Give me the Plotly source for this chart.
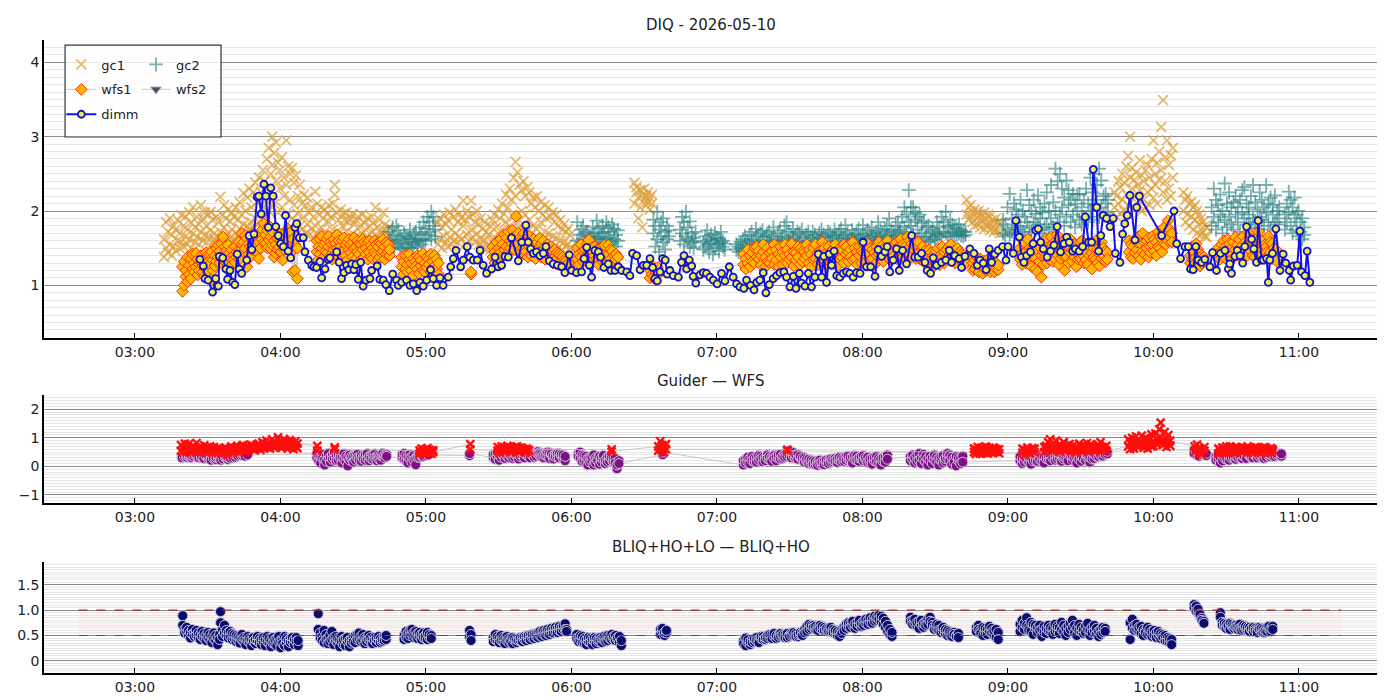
import pandas as pd
import plotly.graph_objects as go

DAY = pd.Timestamp("2026-05-10")

# times are minutes after midnight
# cloud series: (minute, reading a, reading b)
gc1 = [
    (192.0, 1.38, 1.62), (192.8, 1.85, 1.50), (193.6, 1.44, 1.72), (194.4, 1.90, 1.55), (195.2, 1.40, 1.68),
    (196.0, 1.80, 1.52), (196.8, 1.46, 1.75), (197.6, 1.88, 1.60), (198.4, 1.50, 1.70), (199.2, 1.94, 1.58),
    (200.0, 1.52, 1.80), (200.8, 1.66, 1.92), (201.6, 1.55, 1.75), (202.4, 1.98, 1.62), (203.2, 1.50, 1.85),
    (204.0, 2.05, 1.70), (204.8, 1.58, 1.78), (205.6, 1.92, 1.65), (206.4, 1.55, 1.82), (207.2, 2.08, 1.72),
    (208.0, 1.60, 1.90), (208.8, 1.98, 1.68), (209.6, 1.58, 1.80), (210.4, 1.95, 1.66), (211.2, 1.99, 1.74),
    (212.0, 1.56, 1.88), (212.8, 1.70, 1.62), (213.6, 1.92, 1.60), (214.4, 1.65, 1.85), (215.2, 2.19, 1.72),
    (216.0, 1.62, 1.95), (216.8, 2.08, 1.78), (217.6, 1.66, 1.90), (218.4, 2.02, 1.70), (219.2, 1.64, 1.86),
    (220.0, 1.98, 1.75), (220.8, 1.62, 1.92), (221.6, 2.05, 1.70), (222.4, 1.68, 1.88), (223.2, 2.12, 1.76),
    (224.0, 1.66, 1.95), (224.8, 2.24, 1.82), (225.6, 1.72, 2.00), (226.4, 2.18, 1.80), (227.2, 1.75, 2.30),
    (228.0, 2.05, 1.85), (228.8, 2.25, 1.78), (229.6, 1.90, 2.38), (230.4, 1.82, 2.12), (231.2, 2.45, 1.95),
    (232.0, 1.88, 2.25), (232.8, 2.55, 2.05), (233.6, 1.92, 2.40), (234.4, 2.70, 2.15), (235.2, 2.00, 2.85),
    (236.0, 2.50, 2.25), (236.6, 3.00, 2.62), (237.4, 2.10, 2.78), (238.2, 2.40, 2.92), (239.0, 1.98, 2.65),
    (239.8, 2.30, 2.55), (240.6, 2.05, 2.72), (241.4, 2.45, 2.20), (242.4, 2.95, 2.35), (243.2, 1.95, 2.60),
    (244.0, 2.50, 2.15), (244.8, 1.90, 2.58), (245.6, 2.38, 2.08), (246.4, 1.85, 2.48), (247.2, 2.20, 1.96),
    (248.0, 1.80, 2.35), (248.8, 2.10, 1.75), (249.6, 1.92, 2.22), (250.4, 1.70, 2.08), (251.2, 2.18, 1.82),
    (252.0, 1.68, 1.98), (252.8, 2.05, 1.76), (253.6, 1.65, 1.92), (254.4, 2.26, 1.80), (255.2, 1.70, 2.10),
    (256.0, 1.95, 1.62), (256.8, 1.78, 2.05), (257.6, 1.66, 1.90), (258.4, 2.02, 1.72), (259.2, 1.62, 1.96),
    (260.0, 1.85, 2.08), (260.8, 1.68, 1.92), (261.6, 2.10, 1.75), (262.4, 2.35, 2.22), (263.2, 1.65, 1.98),
    (264.0, 1.88, 1.70), (264.8, 1.62, 2.02), (265.6, 1.80, 1.95), (266.4, 1.60, 1.88), (267.2, 1.98, 1.72),
    (268.0, 1.64, 1.85), (268.8, 1.90, 1.60), (269.6, 1.70, 1.96), (270.4, 1.58, 1.82), (271.2, 1.88, 1.66),
    (272.0, 1.62, 1.92), (272.8, 1.78, 1.58), (273.6, 1.95, 1.70), (274.4, 1.60, 1.85), (275.2, 1.75, 1.56),
    (276.0, 1.90, 1.66), (276.8, 1.58, 1.80), (277.6, 1.72, 1.92), (278.4, 1.62, 1.84), (279.2, 2.05, 1.68),
    (280.0, 1.56, 1.78), (280.8, 1.88, 1.64), (281.6, 1.70, 1.58), (282.4, 1.98, 1.75), (283.2, 1.60, 1.82),
    (284.0, 1.72, 1.55), (284.8, 1.66, 1.78),
    (305.0, 1.55, 1.85), (305.8, 1.90, 1.62), (306.6, 1.50, 1.78), (307.4, 1.95, 1.66), (308.2, 1.58, 1.82),
    (309.0, 1.88, 1.52), (309.8, 1.65, 1.98), (310.6, 1.55, 1.75), (311.4, 1.92, 1.60), (312.2, 1.70, 2.02),
    (313.0, 1.58, 1.85), (313.8, 1.96, 1.66), (314.6, 1.62, 1.90), (315.4, 1.80, 2.14), (316.2, 1.55, 1.88),
    (317.0, 2.00, 1.68), (317.8, 1.60, 1.92), (318.6, 2.14, 1.75), (319.4, 1.65, 1.95), (320.2, 1.85, 1.58),
    (321.0, 1.70, 2.00), (321.8, 1.55, 1.82), (322.6, 1.90, 1.62), (323.4, 1.52, 1.76), (324.2, 1.85, 1.60),
    (325.0, 1.48, 1.72), (325.8, 1.68, 1.55), (326.6, 1.80, 1.48), (327.4, 1.58, 1.88), (328.2, 1.95, 1.65),
    (329.0, 1.52, 1.78), (329.8, 2.02, 1.70), (330.6, 1.60, 1.90), (331.4, 2.10, 1.75), (332.2, 1.62, 1.96),
    (333.0, 2.22, 1.85), (333.8, 1.68, 2.05), (334.6, 2.30, 1.80), (335.4, 1.72, 2.15), (336.2, 2.45, 1.92),
    (337.0, 2.66, 2.20), (337.8, 2.52, 1.85), (338.6, 1.78, 2.35), (339.4, 2.28, 2.00), (340.2, 1.82, 2.40),
    (341.0, 2.20, 1.95), (341.8, 1.75, 2.32), (342.6, 2.25, 1.88), (343.4, 1.70, 2.10), (344.2, 2.18, 1.80),
    (345.0, 1.65, 2.05), (345.8, 2.20, 1.76), (346.6, 1.62, 2.00), (347.4, 2.12, 1.85), (348.2, 1.60, 1.95),
    (349.0, 2.08, 1.72), (349.8, 1.58, 1.90), (350.6, 2.05, 1.70), (351.4, 1.55, 1.92), (352.2, 1.98, 1.66),
    (353.0, 1.52, 1.85), (353.8, 1.95, 1.64), (354.6, 1.50, 1.80), (355.4, 1.88, 1.60), (356.2, 1.48, 1.75),
    (357.0, 1.82, 1.58), (357.8, 1.52, 1.72), (358.6, 1.76, 1.56), (359.4, 1.50, 1.68),
    (386.0, 2.38, 2.10), (386.8, 2.25, 2.32), (387.6, 1.90, 2.18), (388.4, 2.28, 2.05), (389.2, 1.78, 2.22),
    (390.0, 2.15, 2.30), (390.8, 2.08, 2.20), (391.6, 2.25, 2.12), (392.4, 2.18, 2.02), (393.2, 2.10, 2.22),
    (523.0, 2.15, 1.95), (523.8, 1.88, 2.05), (524.6, 2.08, 1.92), (525.4, 1.98, 1.85), (526.2, 2.02, 1.80),
    (527.0, 1.90, 1.96), (527.8, 1.82, 2.00), (528.6, 1.95, 1.78), (529.4, 1.86, 1.92), (530.2, 1.76, 1.98),
    (531.0, 1.90, 1.82), (531.8, 1.80, 1.95), (532.6, 1.92, 1.74), (533.4, 1.78, 1.88), (534.2, 1.85, 1.72),
    (535.0, 1.90, 1.76), (535.8, 1.74, 1.84), (536.6, 1.82, 1.70),
    (584.0, 2.05, 2.25), (584.8, 2.20, 1.92), (585.6, 2.40, 2.10), (586.4, 1.96, 2.32), (587.2, 2.50, 2.15),
    (588.0, 2.00, 2.38), (588.8, 2.60, 2.22), (589.6, 2.74, 2.08), (590.4, 3.00, 2.45), (591.2, 2.30, 2.58),
    (592.0, 2.05, 2.42), (592.8, 2.52, 2.20), (593.6, 2.10, 2.35), (594.4, 2.68, 2.28), (595.2, 2.00, 2.48),
    (596.0, 2.40, 2.15), (596.8, 2.55, 2.05), (597.6, 2.25, 2.62), (598.4, 2.08, 2.45), (599.2, 2.70, 2.30),
    (600.0, 2.95, 2.18), (600.8, 2.50, 2.35), (601.6, 2.10, 2.65), (602.4, 2.80, 2.42), (603.2, 3.13, 2.55),
    (604.0, 3.49, 2.25), (604.8, 2.40, 2.72), (605.6, 2.95, 2.15), (606.4, 2.62, 2.30), (607.2, 2.20, 2.75),
    (608.0, 2.85, 2.45),
    (612.4, 2.25, 2.00), (613.2, 1.85, 2.15), (614.0, 2.20, 1.95), (614.8, 1.80, 2.10), (615.6, 2.12, 1.92),
    (616.4, 1.75, 2.05), (617.2, 2.08, 1.88), (618.0, 1.70, 2.00), (618.8, 1.95, 1.82), (619.6, 1.68, 1.90),
    (620.4, 1.85, 1.72), (621.2, 1.66, 1.80), (622.0, 1.78, 1.65),
]

gc2 = [
    (284.6, 1.55, 1.72), (285.4, 1.62, 1.50), (286.2, 1.78, 1.58), (287.0, 1.52, 1.68), (287.8, 1.80, 1.60),
    (288.6, 1.56, 1.74), (289.4, 1.66, 1.50), (290.2, 1.48, 1.62), (291.0, 1.70, 1.55), (291.8, 1.52, 1.66),
    (292.6, 1.64, 1.50), (293.4, 1.75, 1.58), (294.2, 1.50, 1.62), (295.0, 1.68, 1.55), (295.8, 1.58, 1.72),
    (296.6, 1.62, 1.52), (297.4, 1.78, 1.60), (298.2, 1.55, 1.70), (299.0, 1.85, 1.62), (299.8, 1.60, 1.76),
    (300.6, 1.92, 1.68), (301.4, 1.72, 1.86), (302.2, 1.99, 1.62), (303.0, 1.80, 1.92), (303.8, 1.66, 1.75),
    (362.4, 1.85, 1.60), (363.2, 1.68, 1.52), (364.0, 1.75, 1.58), (364.8, 1.62, 1.80), (365.6, 1.55, 1.70),
    (366.4, 1.72, 1.50), (367.2, 1.60, 1.66), (368.0, 1.66, 1.55), (368.8, 1.78, 1.62), (369.6, 1.58, 1.70),
    (370.4, 1.87, 1.64), (371.2, 1.62, 1.76), (372.0, 1.70, 1.54), (372.8, 1.80, 1.66), (373.6, 1.56, 1.72),
    (374.4, 1.85, 1.62), (375.2, 1.64, 1.78), (376.0, 1.72, 1.55), (376.8, 1.58, 1.82), (377.6, 1.76, 1.62),
    (378.4, 1.68, 1.52), (379.2, 1.60, 1.74),
    (393.8, 1.70, 1.88), (394.6, 1.52, 1.80), (395.4, 1.99, 1.62), (396.2, 1.75, 1.45), (397.0, 1.85, 1.66),
    (397.8, 1.58, 1.90), (398.6, 1.72, 1.48), (399.4, 1.80, 1.62), (400.2, 1.66, 1.74),
    (404.8, 1.75, 1.60), (405.6, 1.92, 1.70), (406.4, 1.55, 1.85), (407.2, 1.99, 1.66), (408.0, 1.62, 1.78),
    (408.8, 1.86, 1.52), (409.6, 1.70, 1.58), (410.4, 1.50, 1.64), (411.2, 1.60, 1.72),
    (414.4, 1.58, 1.48), (415.2, 1.66, 1.52), (416.0, 1.74, 1.55), (416.8, 1.45, 1.62), (417.6, 1.68, 1.56),
    (418.4, 1.60, 1.42), (419.2, 1.70, 1.50), (420.0, 1.55, 1.64), (420.8, 1.62, 1.46), (421.6, 1.72, 1.58),
    (422.4, 1.52, 1.60), (423.2, 1.56, 1.48),
    (428.0, 1.48, 1.55), (428.9, 1.52, 1.45), (429.8, 1.58, 1.50), (430.7, 1.46, 1.62), (431.6, 1.55, 1.66),
    (432.5, 1.50, 1.60), (433.4, 1.68, 1.52), (434.3, 1.56, 1.72), (435.2, 1.62, 1.50), (436.1, 1.76, 1.58),
    (437.0, 1.54, 1.66), (437.9, 1.70, 1.52), (438.8, 1.60, 1.74), (439.7, 1.52, 1.65), (440.6, 1.68, 1.58),
    (441.5, 1.72, 1.55), (442.4, 1.56, 1.66), (443.3, 1.78, 1.60), (444.2, 1.62, 1.52), (445.1, 1.70, 1.58),
    (446.0, 1.55, 1.74), (446.9, 1.66, 1.60), (447.8, 1.80, 1.56), (448.7, 1.85, 1.64), (449.6, 1.58, 1.72),
    (450.5, 1.68, 1.52), (451.4, 1.62, 1.76), (452.3, 1.54, 1.66), (453.2, 1.72, 1.58), (454.1, 1.60, 1.70),
    (455.0, 1.75, 1.55), (455.9, 1.52, 1.64), (456.8, 1.68, 1.58), (457.7, 1.58, 1.72), (458.6, 1.65, 1.52),
    (459.5, 1.72, 1.60), (460.4, 1.56, 1.68), (461.3, 1.62, 1.54), (462.2, 1.70, 1.58), (463.1, 1.75, 1.64),
    (464.0, 1.55, 1.68), (464.9, 1.66, 1.52), (465.8, 1.60, 1.72), (466.7, 1.70, 1.56), (467.6, 1.58, 1.66),
    (468.5, 1.64, 1.75), (469.4, 1.55, 1.68), (470.3, 1.72, 1.60), (471.2, 1.62, 1.76), (472.1, 1.68, 1.56),
    (473.0, 1.81, 1.64), (473.9, 1.58, 1.70), (474.8, 1.66, 1.54), (475.7, 1.74, 1.62), (476.6, 1.60, 1.68),
    (477.5, 1.70, 1.56), (478.4, 1.64, 1.76), (479.3, 1.56, 1.66), (480.2, 1.81, 1.62), (481.1, 1.68, 1.58),
    (482.0, 1.74, 1.64), (482.9, 1.60, 1.70), (483.8, 1.66, 1.78), (484.7, 1.58, 1.68), (485.6, 1.72, 1.62),
    (486.5, 1.85, 1.66), (487.4, 1.62, 1.74), (488.3, 1.70, 1.58), (489.2, 1.76, 1.64), (490.1, 1.66, 1.80),
    (491.0, 1.90, 1.68), (491.9, 1.62, 1.74), (492.8, 1.72, 1.66), (493.7, 1.80, 1.62), (494.6, 1.68, 1.85),
    (495.5, 1.75, 1.70), (496.4, 1.92, 1.66), (497.3, 2.05, 1.78), (498.2, 1.72, 1.95), (499.1, 2.28, 1.85),
    (500.0, 1.80, 2.05), (500.9, 2.05, 1.70), (501.8, 1.88, 1.98), (502.7, 1.75, 1.92), (503.6, 1.95, 1.66),
    (504.5, 1.70, 1.84), (505.4, 1.86, 1.62), (506.3, 1.65, 1.78), (507.2, 1.80, 1.58), (508.1, 1.60, 1.72),
    (509.0, 1.75, 1.66), (509.9, 1.62, 1.70), (510.8, 1.85, 1.68), (511.7, 1.68, 1.78), (512.6, 1.92, 1.65),
    (513.5, 1.72, 1.85), (514.4, 1.99, 1.70), (515.3, 1.66, 1.80), (516.2, 1.88, 1.72), (517.1, 1.70, 1.82),
    (518.0, 1.78, 1.66), (518.9, 1.68, 1.76), (519.8, 1.82, 1.70), (520.7, 1.67, 1.74), (521.6, 1.72, 1.66),
    (522.5, 1.68, 1.72),
    (538.0, 1.70, 1.88), (538.9, 1.82, 1.66), (539.8, 2.05, 1.75), (540.7, 1.68, 2.23), (541.6, 1.90, 1.72),
    (542.5, 1.78, 2.10), (543.4, 2.02, 1.70), (544.3, 1.75, 1.95), (545.2, 2.15, 1.80), (546.1, 1.72, 2.00),
    (547.0, 1.92, 1.68), (547.9, 2.28, 1.85), (548.8, 1.78, 2.08), (549.7, 2.00, 1.72), (550.6, 1.85, 2.15),
    (551.5, 1.75, 1.96), (552.4, 2.21, 1.82), (553.3, 1.90, 2.05), (554.2, 1.70, 1.98), (555.1, 2.10, 1.78),
    (556.0, 1.82, 2.25), (556.9, 2.00, 1.75), (557.8, 2.35, 1.90), (558.7, 1.78, 2.12), (559.6, 2.57, 2.00),
    (560.5, 1.85, 2.40), (561.4, 2.50, 1.95), (562.3, 2.05, 2.30), (563.2, 1.80, 2.18), (564.1, 2.41, 1.92),
    (565.0, 2.08, 2.28), (565.9, 1.85, 2.15), (566.8, 2.23, 1.95), (567.7, 1.78, 2.10), (568.6, 2.00, 2.22),
    (569.5, 2.23, 1.88), (570.4, 1.82, 2.05), (571.3, 2.15, 1.92), (572.2, 1.90, 2.30), (573.1, 2.10, 1.85),
    (574.0, 2.45, 2.00), (574.9, 1.88, 2.25), (575.8, 2.50, 2.08), (576.7, 2.15, 2.35), (577.6, 1.92, 2.57),
    (578.5, 2.41, 2.05), (579.4, 2.20, 1.95), (580.3, 2.23, 2.10), (581.2, 1.98, 2.15),
    (624.0, 1.80, 2.05), (624.9, 2.30, 1.92), (625.8, 1.75, 2.15), (626.7, 2.08, 1.85), (627.6, 1.95, 2.22),
    (628.5, 1.70, 2.00), (629.4, 2.37, 1.88), (630.3, 2.10, 1.78), (631.2, 1.92, 2.25), (632.1, 2.05, 1.82),
    (633.0, 1.75, 2.12), (633.9, 2.20, 1.95), (634.8, 1.85, 2.05), (635.7, 2.15, 1.72), (636.6, 1.98, 2.28),
    (637.5, 2.32, 1.90), (638.4, 1.82, 2.10), (639.3, 2.05, 1.95), (640.2, 2.20, 1.78), (641.1, 1.90, 2.35),
    (642.0, 2.12, 1.85), (642.9, 1.76, 2.02), (643.8, 2.25, 1.92), (644.7, 1.88, 2.15), (645.6, 2.05, 1.80),
    (646.5, 2.35, 1.98), (647.4, 1.85, 2.10), (648.3, 2.18, 1.75), (649.2, 1.95, 2.08), (650.1, 2.21, 1.85),
    (651.0, 1.82, 2.00), (651.9, 2.05, 1.90),
    (654.2, 1.95, 1.75), (655.0, 2.10, 1.85), (655.8, 2.26, 1.98), (656.6, 1.80, 2.15), (657.4, 2.05, 1.70),
    (658.2, 1.90, 2.18), (659.0, 1.75, 1.95), (659.8, 2.00, 1.66), (660.6, 1.85, 1.72), (661.4, 1.62, 1.90),
    (662.2, 1.78, 1.68),
]

wfs1 = [
    (199.6, 0.92, 1.25), (200.3, 1.00, 1.32), (201.0, 1.12, 1.20), (201.7, 1.05, 1.38), (202.4, 1.27, 1.15),
    (203.1, 1.09, 1.36), (203.8, 1.22, 1.42), (204.5, 1.18, 1.30), (205.2, 1.43, 1.25), (205.9, 1.14, 1.35),
    (206.6, 1.28, 1.20), (207.3, 1.31, 1.40), (208.0, 1.18, 1.26), (208.7, 1.35, 1.12), (209.4, 1.25, 1.44),
    (210.1, 1.20, 1.31), (210.8, 1.43, 1.28), (211.5, 1.07, 1.45), (212.2, 1.34, 1.20), (212.9, 1.26, 1.40),
    (213.6, 1.50, 1.32), (214.3, 1.38, 1.54), (215.0, 1.30, 1.46), (215.7, 1.56, 1.36), (216.4, 1.65, 1.40),
    (217.1, 1.38, 1.52), (217.8, 1.47, 1.30), (218.5, 1.54, 1.42), (219.2, 1.36, 1.25), (219.9, 1.27, 1.48),
    (220.6, 1.40, 1.34), (221.3, 1.31, 1.52), (222.0, 1.45, 1.38), (222.7, 1.58, 1.42), (223.4, 1.47, 1.36),
    (224.1, 1.70, 1.55), (224.8, 1.58, 1.45), (225.5, 1.67, 1.50), (226.2, 1.25, 1.63), (226.9, 1.42, 1.56),
    (227.6, 1.52, 1.38), (228.3, 1.61, 1.48), (229.0, 1.70, 1.55), (229.7, 1.52, 1.64), (230.4, 1.65, 1.45),
    (231.1, 1.36, 1.58), (231.8, 1.70, 1.50), (232.5, 1.62, 1.75), (233.2, 1.83, 1.58), (233.9, 1.56, 1.68),
    (234.6, 1.74, 1.50), (235.3, 1.61, 1.80), (236.0, 1.49, 1.65), (236.7, 1.54, 1.72), (237.4, 1.38, 1.60),
    (238.1, 1.43, 1.55), (238.8, 1.63, 1.48), (239.5, 1.52, 1.70), (240.2, 1.45, 1.60), (240.9, 1.34, 1.55),
    (241.6, 1.67, 1.48), (242.3, 1.58, 1.72), (243.0, 1.76, 1.60), (243.7, 1.52, 1.68), (244.4, 1.72, 1.45),
    (245.1, 1.18, 1.62), (246.0, 1.20, 1.55), (247.0, 1.09, 1.50),
    (255.0, 1.45, 1.60), (255.7, 1.35, 1.52), (256.4, 1.62, 1.42), (257.1, 1.50, 1.66), (257.8, 1.38, 1.55),
    (258.5, 1.58, 1.46), (259.2, 1.44, 1.62), (259.9, 1.66, 1.52), (260.6, 1.40, 1.58), (261.3, 1.55, 1.35),
    (262.0, 1.62, 1.48), (262.7, 1.42, 1.56), (263.4, 1.68, 1.50), (264.1, 1.38, 1.60), (264.8, 1.52, 1.44),
    (265.5, 1.60, 1.36), (266.2, 1.46, 1.64), (266.9, 1.55, 1.40), (267.6, 1.34, 1.58), (268.3, 1.62, 1.48),
    (269.0, 1.44, 1.55), (269.7, 1.58, 1.38), (270.4, 1.50, 1.64), (271.1, 1.36, 1.52), (271.8, 1.60, 1.45),
    (272.5, 1.42, 1.56), (273.2, 1.55, 1.34), (273.9, 1.62, 1.48), (274.6, 1.38, 1.58), (275.3, 1.50, 1.42),
    (276.0, 1.58, 1.35), (276.7, 1.44, 1.60), (277.4, 1.54, 1.38), (278.1, 1.36, 1.50), (278.8, 1.60, 1.45),
    (279.5, 1.42, 1.55), (280.2, 1.52, 1.34), (280.9, 1.38, 1.58), (281.6, 1.56, 1.44), (282.3, 1.46, 1.62),
    (283.0, 1.35, 1.52), (283.7, 1.58, 1.42), (284.4, 1.45, 1.55), (285.0, 1.40, 1.48),
    (290.0, 1.25, 1.38), (290.8, 1.15, 1.32), (291.6, 1.40, 1.22), (292.4, 1.28, 1.18), (293.2, 1.35, 1.42),
    (294.0, 1.20, 1.30), (294.8, 1.13, 1.36), (295.6, 1.32, 1.25), (296.4, 1.22, 1.40), (297.2, 1.38, 1.16),
    (298.0, 1.26, 1.34), (298.8, 1.43, 1.20), (299.6, 1.30, 1.18), (300.4, 1.24, 1.38), (301.2, 1.35, 1.28),
    (302.0, 1.18, 1.42), (302.8, 1.32, 1.22), (303.6, 1.40, 1.26), (304.4, 1.22, 1.35), (305.2, 1.30, 1.15),
    (318.6, 1.15, 1.18),
    (327.6, 1.38, 1.52), (328.4, 1.45, 1.30), (329.2, 1.58, 1.40), (330.0, 1.35, 1.50), (330.8, 1.62, 1.44),
    (331.6, 1.40, 1.55), (332.4, 1.68, 1.48), (333.2, 1.52, 1.64), (334.0, 1.44, 1.72), (334.8, 1.60, 1.50),
    (335.6, 1.74, 1.56), (336.4, 1.48, 1.66), (337.2, 1.93, 1.58), (338.0, 1.55, 1.70), (338.8, 1.64, 1.46),
    (339.6, 1.50, 1.62), (340.4, 1.70, 1.42), (341.2, 1.45, 1.58), (342.0, 1.60, 1.38), (342.8, 1.52, 1.66),
    (343.6, 1.40, 1.56), (344.4, 1.62, 1.45), (345.2, 1.36, 1.55), (346.0, 1.58, 1.48), (346.8, 1.44, 1.63),
    (347.6, 1.56, 1.38), (348.4, 1.48, 1.60), (349.2, 1.35, 1.52), (350.0, 1.55, 1.42), (350.8, 1.40, 1.50),
    (351.6, 1.52, 1.34), (352.4, 1.30, 1.46), (353.2, 1.48, 1.38), (354.0, 1.36, 1.44), (354.8, 1.42, 1.28),
    (355.6, 1.32, 1.40), (356.4, 1.38, 1.25), (357.2, 1.28, 1.35), (358.0, 1.34, 1.22), (358.8, 1.25, 1.30),
    (362.4, 1.35, 1.50), (363.2, 1.42, 1.28), (364.0, 1.55, 1.38), (364.8, 1.32, 1.46), (365.6, 1.48, 1.36),
    (366.4, 1.40, 1.55), (367.2, 1.61, 1.44), (368.0, 1.30, 1.50), (368.8, 1.45, 1.34), (369.6, 1.52, 1.40),
    (370.4, 1.36, 1.48), (371.2, 1.44, 1.28), (372.0, 1.50, 1.38), (372.8, 1.32, 1.45), (373.6, 1.42, 1.54),
    (374.4, 1.38, 1.30), (375.2, 1.54, 1.42), (376.0, 1.35, 1.48), (376.8, 1.46, 1.28), (377.6, 1.30, 1.40),
    (378.4, 1.42, 1.35), (379.2, 1.25, 1.38),
    (392.4, 1.20, 1.10), (393.2, 1.27, 1.15), (394.0, 1.12, 1.22), (394.8, 1.07, 1.18), (395.6, 1.24, 1.14),
    (431.0, 1.28, 1.42), (431.9, 1.36, 1.22), (432.8, 1.48, 1.30), (433.7, 1.25, 1.40), (434.6, 1.44, 1.32),
    (435.5, 1.30, 1.50), (436.4, 1.52, 1.38), (437.3, 1.35, 1.46), (438.2, 1.27, 1.40), (439.1, 1.45, 1.55),
    (440.0, 1.38, 1.25), (440.9, 1.50, 1.32), (441.8, 1.30, 1.44), (442.7, 1.46, 1.36), (443.6, 1.55, 1.28),
    (444.5, 1.34, 1.48), (445.4, 1.42, 1.25), (446.3, 1.52, 1.38), (447.2, 1.28, 1.45), (448.1, 1.40, 1.55),
    (449.0, 1.48, 1.30), (449.9, 1.35, 1.42), (450.8, 1.56, 1.38), (451.7, 1.26, 1.45), (452.6, 1.44, 1.34),
    (453.5, 1.38, 1.52), (454.4, 1.50, 1.28), (455.3, 1.32, 1.46), (456.2, 1.45, 1.36), (457.1, 1.55, 1.40),
    (458.0, 1.30, 1.48), (458.9, 1.42, 1.25), (459.8, 1.50, 1.35), (460.7, 1.36, 1.55), (461.6, 1.28, 1.44),
    (462.5, 1.46, 1.34), (463.4, 1.58, 1.40), (464.3, 1.34, 1.50), (465.2, 1.44, 1.28), (466.1, 1.52, 1.38),
    (467.0, 1.30, 1.46), (467.9, 1.48, 1.35), (468.8, 1.40, 1.55), (469.7, 1.26, 1.44), (470.6, 1.50, 1.36),
    (471.5, 1.38, 1.48), (472.4, 1.55, 1.30), (473.3, 1.42, 1.52), (474.2, 1.32, 1.45), (475.1, 1.48, 1.38),
    (476.0, 1.58, 1.34), (476.9, 1.36, 1.50), (477.8, 1.45, 1.28), (478.7, 1.52, 1.40), (479.6, 1.30, 1.46),
    (480.5, 1.44, 1.55), (481.4, 1.38, 1.32), (482.3, 1.56, 1.42), (483.2, 1.34, 1.50), (484.1, 1.48, 1.36),
    (485.0, 1.28, 1.44), (485.9, 1.52, 1.40), (486.8, 1.42, 1.58), (487.7, 1.36, 1.48), (488.6, 1.55, 1.32),
    (489.5, 1.44, 1.52), (490.4, 1.60, 1.38), (491.3, 1.35, 1.48), (492.2, 1.50, 1.42), (493.1, 1.40, 1.56),
    (494.0, 1.58, 1.36), (494.9, 1.46, 1.52), (495.8, 1.62, 1.40), (496.7, 1.38, 1.55), (497.6, 1.52, 1.44),
    (498.5, 1.65, 1.48), (499.4, 1.42, 1.60), (500.3, 1.56, 1.38), (501.2, 1.48, 1.62), (502.1, 1.36, 1.52),
    (503.0, 1.58, 1.44), (503.9, 1.45, 1.35), (504.8, 1.52, 1.40), (505.7, 1.30, 1.46), (506.6, 1.42, 1.34),
    (507.5, 1.48, 1.28), (508.4, 1.36, 1.44), (509.3, 1.25, 1.40), (510.2, 1.46, 1.32), (511.1, 1.35, 1.50),
    (512.0, 1.40, 1.28), (512.9, 1.52, 1.38), (513.8, 1.30, 1.45), (514.7, 1.48, 1.36), (515.6, 1.38, 1.52),
    (516.5, 1.55, 1.42), (517.4, 1.34, 1.46), (518.3, 1.44, 1.30), (519.2, 1.50, 1.38), (520.1, 1.36, 1.45),
    (521.0, 1.42, 1.32), (521.9, 1.28, 1.40), (522.8, 1.38, 1.30),
    (525.6, 1.30, 1.20), (526.4, 1.22, 1.34), (527.2, 1.38, 1.26), (528.0, 1.18, 1.30), (528.8, 1.28, 1.35),
    (529.6, 1.24, 1.16), (530.4, 1.33, 1.22), (531.2, 1.20, 1.28), (532.0, 1.26, 1.36), (532.8, 1.18, 1.30),
    (533.6, 1.32, 1.24), (534.4, 1.25, 1.18), (535.2, 1.30, 1.22), (536.0, 1.21, 1.27),
    (545.0, 1.35, 1.50), (545.8, 1.28, 1.42), (546.6, 1.58, 1.38), (547.4, 1.45, 1.30), (548.2, 1.32, 1.62),
    (549.0, 1.50, 1.40), (549.8, 1.25, 1.48), (550.6, 1.42, 1.55), (551.4, 1.36, 1.22), (552.2, 1.18, 1.48),
    (553.0, 1.52, 1.32), (553.8, 1.11, 1.40), (554.6, 1.45, 1.28), (555.4, 1.62, 1.38), (556.2, 1.30, 1.50),
    (557.0, 1.48, 1.35), (557.8, 1.40, 1.65), (558.6, 1.56, 1.32), (559.4, 1.35, 1.46), (560.2, 1.68, 1.42),
    (561.0, 1.28, 1.52), (561.8, 1.46, 1.36), (562.6, 1.58, 1.40), (563.4, 1.20, 1.48), (564.2, 1.38, 1.55),
    (565.0, 1.52, 1.30), (565.8, 1.44, 1.62), (566.6, 1.32, 1.48), (567.4, 1.55, 1.38), (568.2, 1.25, 1.45),
    (569.0, 1.48, 1.35), (569.8, 1.36, 1.58), (570.6, 1.60, 1.42), (571.4, 1.30, 1.50), (572.2, 1.45, 1.34),
    (573.0, 1.55, 1.28), (573.8, 1.40, 1.52), (574.6, 1.22, 1.44), (575.4, 1.50, 1.38), (576.2, 1.35, 1.60),
    (577.0, 1.48, 1.30), (577.8, 1.26, 1.42), (578.6, 1.58, 1.36), (579.4, 1.40, 1.50), (580.2, 1.32, 1.46),
    (581.0, 1.44, 1.35),
    (590.0, 1.45, 1.60), (590.8, 1.55, 1.38), (591.6, 1.36, 1.52), (592.4, 1.62, 1.44), (593.2, 1.48, 1.58),
    (594.0, 1.40, 1.66), (594.8, 1.56, 1.35), (595.6, 1.70, 1.46), (596.4, 1.42, 1.58), (597.2, 1.60, 1.50),
    (598.0, 1.38, 1.64), (598.8, 1.52, 1.44), (599.6, 1.66, 1.55), (600.4, 1.46, 1.62), (601.2, 1.58, 1.40),
    (602.0, 1.72, 1.52), (602.8, 1.50, 1.66), (603.6, 1.62, 1.45), (604.4, 1.78, 1.56), (605.2, 1.55, 1.68),
    (606.0, 1.87, 1.60), (606.8, 1.64, 1.75), (607.6, 1.70, 1.58),
    (615.2, 1.40, 1.30), (616.0, 1.52, 1.35), (616.8, 1.28, 1.45), (617.6, 1.56, 1.38), (618.4, 1.34, 1.48),
    (619.2, 1.42, 1.26), (620.0, 1.30, 1.40), (620.8, 1.38, 1.32),
    (626.6, 1.38, 1.50), (627.4, 1.45, 1.35), (628.2, 1.55, 1.42), (629.0, 1.40, 1.60), (629.8, 1.52, 1.36),
    (630.6, 1.62, 1.48), (631.4, 1.44, 1.56), (632.2, 1.35, 1.50), (633.0, 1.58, 1.42), (633.8, 1.48, 1.65),
    (634.6, 1.40, 1.54), (635.4, 1.62, 1.46), (636.2, 1.52, 1.38), (637.0, 1.66, 1.48), (637.8, 1.44, 1.58),
    (638.6, 1.55, 1.40), (639.4, 1.70, 1.50), (640.2, 1.46, 1.62), (641.0, 1.58, 1.40), (641.8, 1.38, 1.52),
    (642.6, 1.64, 1.46), (643.4, 1.50, 1.72), (644.2, 1.42, 1.56), (645.0, 1.60, 1.48), (645.8, 1.36, 1.54),
    (646.6, 1.52, 1.44), (647.4, 1.66, 1.40), (648.2, 1.45, 1.58), (649.0, 1.56, 1.36), (649.8, 1.40, 1.50),
    (650.6, 1.48, 1.33),
]

# dimm: (minute, value)
dimm = [
    (206.8, 1.35), (208.2, 1.26), (208.9, 1.09), (210.2, 1.07), (212.0, 0.91), (213.3, 1.09), (214.4, 0.99),
    (214.8, 1.39), (216.2, 1.37), (217.5, 1.22), (218.2, 1.08), (219.2, 1.20), (220.3, 1.04), (221.2, 1.01),
    (222.2, 1.42), (223.0, 1.22), (224.0, 1.16), (226.1, 1.34), (227.1, 1.67), (228.2, 1.48), (229.1, 1.69),
    (230.4, 2.19), (231.1, 2.20), (232.1, 1.96), (233.2, 2.36), (234.0, 2.20), (235.0, 1.78), (236.0, 2.31),
    (237.0, 2.20), (238.1, 1.79), (239.1, 1.67), (240.1, 1.56), (241.2, 1.52), (242.1, 1.94), (243.2, 1.46),
    (244.2, 1.37), (246.0, 1.78), (246.7, 1.83), (247.8, 1.64), (249.4, 1.64), (250.1, 1.45), (251.5, 1.34),
    (252.9, 1.27), (253.8, 1.25), (254.9, 1.24), (256.3, 1.32), (257.0, 1.10), (258.4, 1.22), (259.7, 1.35),
    (260.4, 1.37), (263.2, 1.45), (264.2, 1.31), (265.2, 1.09), (266.2, 1.17), (267.3, 1.27), (268.2, 1.21),
    (269.4, 1.29), (270.3, 1.21), (271.1, 1.28), (272.1, 1.08), (273.1, 1.31), (274.1, 0.99), (275.3, 1.07),
    (276.9, 1.09), (277.6, 1.20), (279.9, 1.26), (281.0, 1.08), (282.4, 1.07), (283.5, 1.01), (284.9, 0.93),
    (286.3, 1.15), (287.9, 1.07), (288.6, 1.00), (290.0, 1.04), (292.0, 1.07), (293.4, 1.00), (294.8, 1.02),
    (296.2, 0.93), (297.5, 1.04), (298.9, 0.99), (300.3, 1.07), (301.9, 1.21), (303.0, 1.09), (304.4, 1.00),
    (305.8, 1.10), (307.1, 1.00), (309.2, 1.11), (310.2, 1.25), (311.3, 1.36), (312.4, 1.47), (314.3, 1.25),
    (315.4, 1.34), (317.0, 1.52), (318.1, 1.38), (319.5, 1.34), (321.2, 1.34), (322.3, 1.47), (323.6, 1.27),
    (325.0, 1.16), (327.1, 1.22), (328.5, 1.38), (329.8, 1.25), (331.2, 1.27), (332.6, 1.39), (334.0, 1.38),
    (335.3, 1.64), (338.1, 1.33), (339.5, 1.58), (341.2, 1.81), (342.2, 1.58), (343.2, 1.49), (344.3, 1.43),
    (345.6, 1.45), (347.0, 1.40), (348.4, 1.43), (349.5, 1.52), (350.9, 1.33), (352.5, 1.29), (354.2, 1.27),
    (356.0, 1.25), (357.3, 1.17), (359.1, 1.41), (360.1, 1.20), (362.1, 1.17), (364.2, 1.18), (365.2, 1.36),
    (366.3, 1.51), (367.4, 1.27), (368.3, 1.11), (369.7, 1.47), (371.1, 1.45), (372.0, 1.38), (373.4, 1.24),
    (375.2, 1.29), (376.3, 1.20), (378.0, 1.20), (379.3, 1.25), (380.7, 1.20), (382.8, 1.18), (384.1, 1.13),
    (385.2, 1.43), (386.9, 1.40), (388.3, 1.21), (389.6, 1.27), (391.0, 1.27), (392.4, 1.36), (393.5, 1.24),
    (394.4, 1.09), (395.4, 1.06), (396.5, 1.18), (397.6, 1.36), (398.7, 1.34), (399.5, 1.15), (400.6, 1.20),
    (402.0, 1.13), (404.1, 1.11), (405.4, 1.31), (406.4, 1.40), (407.5, 1.22), (408.6, 1.34), (409.6, 1.26),
    (410.2, 1.12), (411.3, 1.03), (413.0, 1.14), (414.4, 1.17), (415.7, 1.16), (417.1, 1.11), (418.5, 1.07),
    (420.1, 1.02), (421.9, 1.16), (423.3, 1.06), (425.1, 1.25), (426.7, 1.11), (428.1, 1.02), (429.5, 0.98),
    (431.1, 0.96), (432.2, 1.07), (433.9, 1.00), (435.3, 0.94), (436.4, 1.04), (437.7, 1.07), (439.1, 1.17),
    (440.2, 0.90), (441.6, 1.01), (443.2, 1.09), (444.6, 1.13), (446.0, 1.17), (447.6, 1.18), (448.7, 1.11),
    (450.1, 0.98), (451.5, 1.12), (452.6, 0.96), (454.0, 1.16), (454.9, 1.03), (456.3, 0.99), (457.7, 1.16),
    (459.0, 0.98), (460.4, 1.11), (461.8, 1.42), (463.2, 1.11), (464.1, 1.39), (465.2, 1.04), (466.3, 1.42),
    (467.3, 1.27), (468.3, 1.46), (469.4, 1.13), (470.7, 1.11), (472.1, 1.16), (473.5, 1.18), (474.8, 1.16),
    (476.2, 1.11), (477.6, 1.17), (479.0, 1.16), (480.3, 1.58), (481.7, 1.25), (483.4, 1.25), (485.2, 1.12),
    (486.5, 1.48), (487.9, 1.39), (489.3, 1.45), (490.2, 1.52), (491.3, 1.18), (492.7, 1.34), (494.1, 1.49),
    (495.2, 1.20), (496.6, 1.47), (498.2, 1.29), (500.3, 1.67), (501.6, 1.38), (503.0, 1.38), (504.4, 1.43),
    (505.8, 1.31), (506.7, 1.20), (508.1, 1.16), (509.2, 1.37), (510.6, 1.27), (512.6, 1.31), (514.4, 1.34),
    (515.8, 1.47), (516.8, 1.31), (518.1, 1.40), (519.9, 1.36), (520.9, 1.24), (522.3, 1.39), (524.3, 1.49),
    (526.0, 1.43), (527.4, 1.27), (528.5, 1.34), (529.8, 1.30), (531.0, 1.21), (532.3, 1.49), (533.3, 1.31),
    (534.6, 1.42), (536.0, 1.47), (537.8, 1.52), (539.2, 1.34), (540.1, 1.52), (542.2, 1.43), (543.3, 1.87),
    (544.7, 1.65), (545.6, 1.38), (546.6, 1.31), (547.7, 1.40), (549.3, 1.45), (550.4, 1.56), (551.5, 1.74),
    (552.5, 1.76), (553.5, 1.58), (554.6, 1.49), (556.2, 1.38), (557.6, 1.46), (559.0, 1.54), (560.3, 1.79),
    (561.7, 1.45), (563.1, 1.56), (564.2, 1.65), (565.3, 1.58), (566.7, 1.46), (567.8, 1.49), (569.4, 1.46),
    (570.8, 1.52), (571.9, 1.92), (573.3, 1.58), (574.5, 1.58), (575.2, 2.56), (576.6, 2.05), (577.4, 1.46),
    (578.3, 1.67), (579.3, 1.94), (580.7, 1.90), (582.1, 1.79), (583.4, 1.90), (584.3, 1.43), (586.2, 1.31),
    (587.3, 1.69), (588.2, 1.83), (589.2, 1.94), (590.3, 2.21), (592.4, 1.61), (593.1, 2.05), (594.2, 2.20),
    (603.4, 1.67), (608.5, 2.00), (609.6, 1.56), (611.2, 1.36), (613.0, 1.52), (614.4, 1.52), (615.3, 1.22),
    (616.4, 1.21), (617.5, 1.52), (618.5, 1.34), (619.9, 1.31), (621.2, 1.35), (623.3, 1.25), (624.4, 1.44),
    (626.0, 1.20), (627.7, 1.43), (629.5, 1.47), (630.9, 1.22), (631.5, 1.29), (632.2, 1.16), (633.6, 1.39),
    (634.6, 1.47), (635.7, 1.40), (636.8, 1.30), (637.7, 1.52), (638.4, 1.79), (640.5, 1.62), (641.4, 1.49),
    (642.5, 1.31), (643.2, 1.87), (644.6, 1.34), (645.3, 1.34), (646.7, 1.36), (647.4, 1.04), (648.0, 1.34),
    (649.1, 1.43), (650.5, 1.76), (652.2, 1.20), (653.5, 1.42), (654.6, 1.30), (656.0, 1.20), (656.6, 1.07),
    (657.7, 1.26), (659.3, 1.27), (660.4, 1.73), (661.1, 1.18), (662.5, 1.13), (663.4, 1.46), (664.5, 1.04),
]

# Guider - WFS panel, two series
gw_red = [
    (199.0, 0.55, 0.75), (199.8, 0.68, 0.50), (200.6, 0.80, 0.60), (201.4, 0.52, 0.70), (202.2, 0.65, 0.78),
    (203.0, 0.58, 0.48), (203.8, 0.72, 0.62), (204.6, 0.55, 0.68), (205.4, 0.82, 0.58), (206.2, 0.62, 0.50),
    (207.0, 0.70, 0.56), (207.8, 0.52, 0.66), (208.6, 0.60, 0.74), (209.4, 0.48, 0.62), (210.2, 0.66, 0.55),
    (211.0, 0.58, 0.70), (211.8, 0.64, 0.50), (212.6, 0.55, 0.68), (213.4, 0.60, 0.52), (214.2, 0.48, 0.64),
    (215.0, 0.56, 0.62), (215.8, 0.45, 0.58), (216.6, 0.62, 0.50), (217.4, 0.52, 0.66), (218.2, 0.40, 0.58),
    (219.0, 0.55, 0.62), (219.8, 0.48, 0.70), (220.6, 0.60, 0.52), (221.4, 0.66, 0.56), (222.2, 0.54, 0.72),
    (223.0, 0.62, 0.50), (223.8, 0.70, 0.58), (224.6, 0.56, 0.75), (225.4, 0.64, 0.52), (226.2, 0.72, 0.60),
    (227.0, 0.58, 0.68), (227.8, 0.76, 0.62), (228.6, 0.60, 0.70), (229.4, 0.66, 0.56), (230.2, 0.74, 0.64),
    (231.0, 0.62, 0.80), (231.8, 0.70, 0.58), (232.6, 0.84, 0.66), (233.4, 0.64, 0.76), (234.2, 0.90, 0.70),
    (235.0, 0.68, 0.82), (235.8, 0.78, 0.62), (236.6, 0.95, 0.72), (237.4, 0.66, 0.86), (238.2, 0.80, 0.70),
    (239.0, 1.02, 0.75), (239.8, 0.72, 0.88), (240.6, 0.84, 0.65), (241.4, 0.96, 0.76), (242.2, 0.70, 0.90),
    (243.0, 0.82, 0.62), (243.8, 0.92, 0.74), (244.6, 0.68, 0.85), (245.4, 0.78, 0.60), (246.2, 0.88, 0.70),
    (247.0, 0.64, 0.80),
    (255.2, 0.72, 0.55), (262.4, 0.67, 0.60),
    (297.4, 0.55, 0.45), (298.2, 0.62, 0.50), (299.0, 0.48, 0.58), (299.8, 0.60, 0.42), (300.6, 0.52, 0.64),
    (301.4, 0.58, 0.46), (302.2, 0.44, 0.55), (303.0, 0.56, 0.50),
    (318.3, 0.78, 0.60),
    (329.6, 0.55, 0.68), (330.4, 0.62, 0.48), (331.2, 0.70, 0.58), (332.0, 0.52, 0.66), (332.8, 0.64, 0.55),
    (333.6, 0.72, 0.60), (334.4, 0.58, 0.68), (335.2, 0.66, 0.50), (336.0, 0.54, 0.62), (336.8, 0.68, 0.58),
    (337.6, 0.60, 0.70), (338.4, 0.50, 0.64), (339.2, 0.66, 0.56), (340.0, 0.58, 0.62), (340.8, 0.48, 0.60),
    (341.6, 0.62, 0.52), (342.4, 0.55, 0.58),
    (376.6, 0.60, 0.52),
    (395.8, 0.70, 0.55), (396.6, 0.88, 0.62), (397.4, 0.58, 0.75), (398.2, 0.66, 0.50), (399.0, 0.78, 0.60),
    (449.0, 0.59, 0.55),
    (526.0, 0.50, 0.62), (526.8, 0.60, 0.44), (527.6, 0.68, 0.52), (528.4, 0.45, 0.58), (529.2, 0.56, 0.66),
    (530.0, 0.62, 0.48), (530.8, 0.50, 0.70), (531.6, 0.58, 0.45), (532.4, 0.65, 0.54), (533.2, 0.48, 0.60),
    (534.0, 0.56, 0.66), (534.8, 0.62, 0.50), (535.6, 0.52, 0.58), (536.4, 0.60, 0.46),
    (546.0, 0.48, 0.62), (547.0, 0.58, 0.40), (548.0, 0.66, 0.52), (549.0, 0.45, 0.58), (550.0, 0.55, 0.64),
    (551.0, 0.62, 0.50),
    (555.0, 0.50, 0.68), (555.8, 0.72, 0.58), (556.6, 0.60, 0.85), (557.4, 0.95, 0.66), (558.2, 0.55, 0.75),
    (559.0, 0.80, 0.62), (559.8, 0.68, 0.90), (560.6, 0.58, 0.72), (561.4, 0.76, 0.52), (562.2, 0.62, 0.70),
    (563.0, 0.85, 0.58), (563.8, 0.55, 0.66), (564.6, 0.70, 0.62), (565.4, 0.60, 0.78), (566.2, 0.52, 0.65),
    (567.0, 0.74, 0.58), (567.8, 0.62, 0.50), (568.6, 0.55, 0.68), (569.4, 0.80, 0.60), (570.2, 0.58, 0.70),
    (571.0, 0.66, 0.55), (571.8, 0.72, 0.62), (572.6, 0.56, 0.82), (573.4, 0.64, 0.52), (574.2, 0.78, 0.60),
    (575.0, 0.60, 0.70), (575.8, 0.52, 0.64), (576.6, 0.70, 0.58), (577.4, 0.62, 0.75), (578.2, 0.85, 0.56),
    (579.0, 0.58, 0.68), (579.8, 0.66, 0.60), (580.6, 0.72, 0.55),
    (589.6, 0.70, 0.95), (590.4, 0.85, 0.60), (591.2, 1.00, 0.75), (592.0, 0.62, 0.88), (592.8, 0.80, 1.05),
    (593.6, 0.92, 0.68), (594.4, 0.72, 0.82), (595.2, 1.08, 0.78), (596.0, 0.66, 0.92), (596.8, 0.86, 1.00),
    (597.6, 0.75, 0.62), (598.4, 0.95, 0.80), (599.2, 0.70, 1.12), (600.0, 0.88, 0.72), (600.8, 1.15, 0.82),
    (601.6, 0.78, 0.95), (602.4, 1.30, 0.85), (603.0, 1.53, 1.02), (603.8, 0.92, 0.75), (604.6, 1.20, 0.80),
    (605.4, 0.68, 0.98), (606.2, 0.85, 1.10), (607.0, 0.72, 0.90),
    (617.0, 0.70, 0.50), (618.0, 0.76, 0.58), (619.0, 0.48, 0.65), (620.0, 0.60, 0.42), (621.0, 0.68, 0.55),
    (626.8, 0.62, 0.45), (627.6, 0.52, 0.58), (628.4, 0.66, 0.48), (629.2, 0.56, 0.62), (630.0, 0.48, 0.70),
    (630.8, 0.60, 0.54), (631.6, 0.70, 0.50), (632.4, 0.55, 0.64), (633.2, 0.62, 0.46), (634.0, 0.50, 0.68),
    (634.8, 0.66, 0.56), (635.6, 0.58, 0.60), (636.4, 0.68, 0.50), (637.2, 0.54, 0.62), (638.0, 0.62, 0.56),
    (638.8, 0.70, 0.48), (639.6, 0.56, 0.64), (640.4, 0.50, 0.60), (641.2, 0.64, 0.55), (642.0, 0.58, 0.68),
    (642.8, 0.66, 0.52), (643.6, 0.52, 0.60), (644.4, 0.62, 0.46), (645.2, 0.56, 0.66), (646.0, 0.68, 0.58),
    (646.8, 0.50, 0.62), (647.6, 0.60, 0.54), (648.4, 0.64, 0.48), (649.2, 0.55, 0.60),
]

gw_purple = [
    (199.4, 0.38, 0.30), (200.4, 0.42, 0.35), (201.4, 0.32, 0.40), (202.4, 0.36, 0.44), (203.4, 0.30, 0.38),
    (204.4, 0.40, 0.34), (205.4, 0.35, 0.42), (206.4, 0.38, 0.30), (207.4, 0.32, 0.36), (208.4, 0.40, 0.28),
    (209.4, 0.34, 0.38), (210.4, 0.26, 0.36), (211.4, 0.30, 0.22), (212.4, 0.36, 0.28), (213.4, 0.24, 0.32),
    (214.4, 0.30, 0.38), (215.4, 0.28, 0.22), (216.4, 0.34, 0.26), (217.4, 0.30, 0.36), (218.4, 0.24, 0.32),
    (219.4, 0.35, 0.28), (220.4, 0.38, 0.30), (221.4, 0.32, 0.42), (222.4, 0.40, 0.36), (223.4, 0.44, 0.38),
    (224.4, 0.38, 0.46), (225.4, 0.42, 0.36), (226.4, 0.48, 0.40),
    (255.0, 0.45, 0.30), (255.8, 0.20, 0.38), (256.6, 0.35, 0.12), (257.4, 0.42, 0.28), (258.2, 0.25, 0.05),
    (259.0, 0.38, 0.18), (259.8, 0.30, 0.45), (260.6, 0.15, 0.32), (261.4, 0.40, 0.25), (262.2, 0.28, 0.50),
    (263.0, 0.35, 0.20), (263.8, 0.22, 0.42), (264.6, 0.38, 0.30), (265.4, 0.30, 0.12), (266.2, 0.44, 0.25),
    (267.0, 0.18, 0.36), (267.8, 0.32, 0.02), (268.6, 0.40, 0.22), (269.4, 0.26, 0.35), (270.2, 0.36, 0.15),
    (271.0, 0.22, 0.40), (271.8, 0.42, 0.30), (272.6, 0.30, 0.20), (273.4, 0.18, 0.38), (274.2, 0.35, 0.26),
    (275.0, 0.42, 0.22), (275.8, 0.28, 0.45), (276.6, 0.20, 0.34), (277.4, 0.38, 0.28), (278.2, 0.25, 0.42),
    (279.0, 0.44, 0.30), (279.8, 0.32, 0.20), (280.6, 0.40, 0.26), (281.4, 0.22, 0.38), (282.2, 0.36, 0.46),
    (283.0, 0.30, 0.40), (283.8, 0.42, 0.35),
    (290.2, 0.30, 0.42), (291.0, 0.45, 0.25), (291.8, 0.20, 0.38), (292.6, 0.35, 0.12), (293.4, 0.42, 0.28),
    (294.2, 0.15, 0.35), (295.0, 0.38, 0.22), (295.8, 0.28, 0.06), (296.6, 0.40, 0.32), (297.4, 0.32, 0.45),
    (298.2, 0.36, 0.40), (299.0, 0.42, 0.35), (300.0, 0.38, 0.46), (301.0, 0.44, 0.40),
    (318.0, 0.38, 0.45),
    (327.8, 0.30, 0.42), (328.6, 0.45, 0.25), (329.4, 0.35, 0.50), (330.2, 0.22, 0.40), (331.0, 0.42, 0.32),
    (331.8, 0.50, 0.38), (332.6, 0.28, 0.45), (333.4, 0.40, 0.35), (334.2, 0.48, 0.30), (335.0, 0.36, 0.52),
    (335.8, 0.42, 0.28), (336.6, 0.32, 0.46), (337.4, 0.50, 0.38), (338.2, 0.26, 0.42), (339.0, 0.44, 0.34),
    (339.8, 0.38, 0.50), (340.6, 0.30, 0.45), (341.4, 0.48, 0.40), (342.2, 0.36, 0.52), (343.0, 0.44, 0.30),
    (343.8, 0.50, 0.40), (344.6, 0.32, 0.46), (345.4, 0.42, 0.36), (346.2, 0.52, 0.44), (347.0, 0.38, 0.48),
    (347.8, 0.46, 0.32), (348.6, 0.30, 0.42), (349.4, 0.44, 0.38), (350.2, 0.36, 0.50), (351.0, 0.48, 0.28),
    (351.8, 0.40, 0.45), (352.6, 0.26, 0.38), (353.4, 0.42, 0.34), (354.2, 0.34, 0.46), (355.0, 0.45, 0.30),
    (355.8, 0.38, 0.42), (356.6, 0.28, 0.40), (357.4, 0.20, 0.35),
    (362.8, 0.45, 0.35), (363.6, 0.30, 0.50), (364.4, 0.40, 0.18), (365.2, 0.22, 0.38), (366.0, 0.35, 0.10),
    (366.8, 0.05, 0.28), (367.6, 0.30, 0.15), (368.4, 0.18, 0.35), (369.2, 0.40, 0.05), (370.0, 0.12, 0.30),
    (370.8, 0.28, 0.20), (371.6, 0.35, 0.08), (372.4, 0.15, 0.30), (373.2, 0.25, 0.38), (374.0, 0.10, 0.22),
    (374.8, 0.32, 0.15), (375.6, 0.20, 0.36), (376.4, 0.40, 0.28), (377.2, 0.18, 0.30), (378.0, 0.28, 0.12),
    (378.8, -0.08, 0.05), (379.6, 0.20, 0.10),
    (397.6, 0.41, 0.50),
    (430.9, 0.05, 0.20), (431.8, 0.25, 0.12), (432.7, 0.15, 0.32), (433.6, 0.28, 0.10), (434.5, 0.35, 0.20),
    (435.4, 0.18, 0.30), (436.3, 0.30, 0.15), (437.2, 0.22, 0.38), (438.1, 0.36, 0.25), (439.0, 0.16, 0.32),
    (439.9, 0.30, 0.20), (440.8, 0.40, 0.28), (441.7, 0.24, 0.35), (442.6, 0.32, 0.18), (443.5, 0.38, 0.28),
    (444.4, 0.20, 0.34), (445.3, 0.30, 0.40), (446.2, 0.42, 0.26), (447.1, 0.28, 0.36), (448.0, 0.45, 0.32),
    (448.9, 0.50, 0.35), (449.8, 0.38, 0.55), (450.7, 0.44, 0.30), (451.6, 0.35, 0.48), (452.5, 0.28, 0.40),
    (453.4, 0.42, 0.25), (454.3, 0.32, 0.36), (455.2, 0.22, 0.30), (456.1, 0.30, 0.15), (457.0, 0.18, 0.26),
    (457.9, 0.25, 0.10), (458.8, 0.12, 0.22), (459.7, 0.20, 0.08), (460.6, 0.06, 0.18), (461.5, 0.15, 0.04),
    (462.4, 0.22, 0.10), (463.3, 0.08, 0.16), (464.2, 0.18, 0.06), (465.1, 0.12, 0.22), (466.0, 0.20, 0.10),
    (466.9, 0.26, 0.14), (467.8, 0.16, 0.24), (468.7, 0.28, 0.18), (469.6, 0.14, 0.26), (470.5, 0.22, 0.32),
    (471.4, 0.30, 0.16), (472.3, 0.18, 0.28), (473.2, 0.34, 0.22), (474.1, 0.26, 0.36), (475.0, 0.20, 0.30),
    (475.9, 0.32, 0.12), (476.8, 0.25, 0.38), (477.7, 0.36, 0.22), (478.6, 0.18, 0.30), (479.5, 0.28, 0.35),
    (480.4, 0.38, 0.20), (481.3, 0.24, 0.32), (482.2, 0.32, 0.14), (483.1, 0.15, 0.26), (484.0, 0.28, 0.08),
    (484.9, 0.20, 0.32), (485.8, 0.34, 0.18), (486.7, 0.10, 0.28), (487.6, 0.26, 0.05), (488.5, 0.18, 0.30),
    (489.4, 0.32, 0.15), (490.3, 0.40, 0.25),
    (499.8, 0.35, 0.20), (500.7, 0.25, 0.40), (501.6, 0.12, 0.30), (502.5, 0.38, 0.18), (503.4, 0.22, 0.45),
    (504.3, 0.30, 0.10), (505.2, 0.42, 0.25), (506.1, 0.16, 0.35), (507.0, 0.28, 0.05), (507.9, 0.36, 0.20),
    (508.8, 0.10, 0.30), (509.7, 0.25, 0.40), (510.6, 0.32, 0.15), (511.5, 0.05, 0.28), (512.4, 0.22, 0.35),
    (513.3, 0.38, 0.12), (514.2, 0.18, 0.28), (515.1, 0.30, 0.45), (516.0, 0.40, 0.20), (516.9, 0.08, 0.32),
    (517.8, 0.26, 0.14), (518.7, 0.35, 0.02), (519.6, 0.20, 0.30), (520.5, 0.28, 0.10), (521.4, 0.36, 0.15),
    (545.0, 0.20, 0.35), (545.9, 0.10, 0.28), (546.8, 0.30, 0.15), (547.7, 0.38, 0.22), (548.6, 0.15, 0.32),
    (549.5, 0.26, 0.08), (550.4, 0.35, 0.20), (551.3, 0.22, 0.40), (552.2, 0.30, 0.18), (553.1, 0.40, 0.25),
    (554.0, 0.18, 0.35), (554.9, 0.32, 0.12), (555.8, 0.42, 0.28), (556.7, 0.25, 0.38), (557.6, 0.35, 0.20),
    (558.5, 0.45, 0.30), (559.4, 0.22, 0.40), (560.3, 0.38, 0.26), (561.2, 0.30, 0.44), (562.1, 0.40, 0.18),
    (563.0, 0.26, 0.35), (563.9, 0.45, 0.30), (564.8, 0.32, 0.20), (565.7, 0.38, 0.48), (566.6, 0.22, 0.35),
    (567.5, 0.42, 0.28), (568.4, 0.30, 0.12), (569.3, 0.40, 0.25), (570.2, 0.18, 0.36), (571.1, 0.35, 0.28),
    (572.0, 0.46, 0.22), (572.9, 0.30, 0.40), (573.8, 0.15, 0.32), (574.7, 0.38, 0.26), (575.6, 0.28, 0.44),
    (576.5, 0.42, 0.35), (577.4, 0.34, 0.50), (578.3, 0.45, 0.38), (579.2, 0.36, 0.48), (580.1, 0.50, 0.42),
    (581.0, 0.44, 0.53),
    (616.8, 0.58, 0.45), (617.8, 0.40, 0.52), (618.8, 0.48, 0.36), (619.8, 0.55, 0.42), (620.8, 0.44, 0.50),
    (621.8, 0.38, 0.46),
    (625.8, 0.35, 0.22), (626.7, 0.25, 0.40), (627.6, 0.12, 0.30), (628.5, 0.38, 0.20), (629.4, 0.28, 0.42),
    (630.3, 0.35, 0.25), (631.2, 0.22, 0.38), (632.1, 0.40, 0.30), (633.0, 0.30, 0.44), (633.9, 0.25, 0.36),
    (634.8, 0.42, 0.32), (635.7, 0.34, 0.45), (636.6, 0.28, 0.40), (637.5, 0.44, 0.35), (638.4, 0.36, 0.28),
    (639.3, 0.40, 0.46), (640.2, 0.32, 0.38), (641.1, 0.45, 0.30), (642.0, 0.38, 0.42), (642.9, 0.30, 0.44),
    (643.8, 0.42, 0.35), (644.7, 0.35, 0.40), (645.6, 0.28, 0.45), (646.5, 0.40, 0.32), (647.4, 0.46, 0.38),
    (648.3, 0.34, 0.42), (649.2, 0.40, 0.36), (650.1, 0.44, 0.34), (651.0, 0.38, 0.46), (651.9, 0.42, 0.40),
    (652.8, 0.36, 0.44),
]

# BLIQ+HO+LO - BLIQ+HO panel
bliq = [
    (199.7, 0.89, 0.70), (200.5, 0.62, 0.55), (201.3, 0.58, 0.66), (202.1, 0.50, 0.60), (202.9, 0.45, 0.56),
    (203.7, 0.62, 0.52), (204.5, 0.54, 0.48), (205.3, 0.60, 0.50), (206.1, 0.46, 0.55), (206.9, 0.52, 0.42),
    (207.7, 0.58, 0.48), (208.5, 0.44, 0.54), (209.3, 0.50, 0.40), (210.1, 0.56, 0.46), (210.9, 0.42, 0.52),
    (211.7, 0.48, 0.36), (212.5, 0.55, 0.44), (213.3, 0.40, 0.50), (214.1, 0.46, 0.32), (214.9, 0.52, 0.42),
    (215.3, 0.97, 0.75), (216.1, 0.62, 0.48), (216.9, 0.70, 0.55), (217.7, 0.50, 0.60), (218.5, 0.56, 0.45),
    (219.3, 0.48, 0.58), (220.1, 0.54, 0.42), (220.9, 0.44, 0.52), (221.7, 0.50, 0.38), (222.5, 0.40, 0.48),
    (223.3, 0.46, 0.35), (224.1, 0.52, 0.42), (224.9, 0.38, 0.46), (225.7, 0.44, 0.32), (226.5, 0.48, 0.40),
    (227.3, 0.36, 0.44), (228.1, 0.42, 0.30), (228.9, 0.46, 0.38), (229.7, 0.34, 0.42), (230.5, 0.40, 0.48),
    (231.3, 0.44, 0.36), (232.1, 0.32, 0.42), (232.9, 0.38, 0.46), (233.7, 0.42, 0.30), (234.5, 0.48, 0.38),
    (235.3, 0.36, 0.44), (236.1, 0.40, 0.28), (236.9, 0.46, 0.35), (237.7, 0.34, 0.42), (238.5, 0.44, 0.30),
    (239.3, 0.38, 0.48), (240.1, 0.26, 0.40), (240.9, 0.42, 0.34), (241.7, 0.48, 0.30), (242.5, 0.36, 0.44),
    (243.3, 0.28, 0.40), (244.1, 0.44, 0.36), (244.9, 0.38, 0.46), (245.7, 0.32, 0.42), (246.5, 0.46, 0.38),
    (247.3, 0.30, 0.40),
    (255.6, 0.93, 0.62), (256.4, 0.55, 0.45), (257.2, 0.48, 0.40), (258.0, 0.60, 0.36), (258.8, 0.52, 0.42),
    (259.6, 0.44, 0.34), (260.4, 0.38, 0.50), (261.2, 0.58, 0.42), (262.0, 0.46, 0.32), (262.8, 0.40, 0.48),
    (263.6, 0.35, 0.44), (264.4, 0.42, 0.28), (265.2, 0.48, 0.38), (266.0, 0.32, 0.42), (266.8, 0.44, 0.30),
    (267.6, 0.38, 0.46), (268.4, 0.28, 0.40), (269.2, 0.42, 0.35), (270.0, 0.46, 0.38), (270.8, 0.36, 0.50),
    (271.6, 0.52, 0.42), (272.4, 0.44, 0.55), (273.2, 0.48, 0.38), (274.0, 0.40, 0.52), (274.8, 0.34, 0.46),
    (275.6, 0.44, 0.38), (276.4, 0.50, 0.42), (277.2, 0.38, 0.46), (278.0, 0.42, 0.34), (278.8, 0.46, 0.40),
    (279.6, 0.36, 0.44), (280.4, 0.40, 0.48), (281.2, 0.44, 0.36), (282.0, 0.38, 0.42), (282.8, 0.48, 0.40),
    (283.6, 0.42, 0.50),
    (291.0, 0.50, 0.42), (291.8, 0.58, 0.46), (292.6, 0.44, 0.55), (293.4, 0.60, 0.50), (294.2, 0.52, 0.62),
    (295.0, 0.46, 0.56), (295.8, 0.58, 0.48), (296.6, 0.54, 0.44), (297.4, 0.48, 0.56), (298.2, 0.42, 0.52),
    (299.0, 0.55, 0.46), (299.8, 0.50, 0.44), (300.6, 0.56, 0.42), (301.4, 0.46, 0.52), (302.2, 0.50, 0.44),
    (318.0, 0.60, 0.48), (318.6, 0.52, 0.40),
    (327.8, 0.46, 0.38), (328.6, 0.52, 0.42), (329.4, 0.40, 0.48), (330.2, 0.46, 0.36), (331.0, 0.50, 0.40),
    (331.8, 0.38, 0.46), (332.6, 0.44, 0.34), (333.4, 0.48, 0.40), (334.2, 0.36, 0.44), (335.0, 0.42, 0.38),
    (335.8, 0.46, 0.34), (336.6, 0.40, 0.44), (337.4, 0.36, 0.42), (338.2, 0.44, 0.40), (339.0, 0.40, 0.46),
    (339.8, 0.46, 0.38), (340.6, 0.42, 0.48), (341.4, 0.48, 0.40), (342.2, 0.44, 0.50), (343.0, 0.50, 0.42),
    (343.8, 0.46, 0.52), (344.6, 0.52, 0.44), (345.4, 0.48, 0.54), (346.2, 0.55, 0.46), (347.0, 0.50, 0.58),
    (347.8, 0.56, 0.48), (348.6, 0.52, 0.60), (349.4, 0.58, 0.50), (350.2, 0.54, 0.62), (351.0, 0.60, 0.52),
    (351.8, 0.56, 0.64), (352.6, 0.62, 0.55), (353.4, 0.58, 0.66), (354.2, 0.64, 0.56), (355.0, 0.60, 0.68),
    (355.8, 0.66, 0.58), (356.6, 0.62, 0.70), (357.4, 0.73, 0.62), (358.0, 0.62, 0.58),
    (362.2, 0.52, 0.44), (363.0, 0.46, 0.38), (363.8, 0.40, 0.50), (364.6, 0.48, 0.36), (365.4, 0.34, 0.44),
    (366.2, 0.42, 0.32), (367.0, 0.38, 0.46), (367.8, 0.44, 0.36), (368.6, 0.32, 0.42), (369.4, 0.40, 0.46),
    (370.2, 0.44, 0.34), (371.0, 0.38, 0.42), (371.8, 0.46, 0.40), (372.6, 0.36, 0.44), (373.4, 0.42, 0.48),
    (374.2, 0.46, 0.38), (375.0, 0.40, 0.50), (375.8, 0.48, 0.44), (376.6, 0.52, 0.42), (377.4, 0.44, 0.48),
    (378.2, 0.50, 0.40), (379.0, 0.42, 0.46), (379.8, 0.36, 0.48), (380.6, 0.30, 0.40),
    (396.8, 0.62, 0.52), (397.6, 0.58, 0.64), (398.4, 0.50, 0.56), (399.2, 0.55, 0.60),
    (431.0, 0.40, 0.34), (431.9, 0.45, 0.30), (432.8, 0.36, 0.42), (433.7, 0.32, 0.38), (434.6, 0.42, 0.36),
    (435.5, 0.38, 0.44), (436.4, 0.46, 0.40), (437.3, 0.40, 0.36), (438.2, 0.44, 0.48), (439.1, 0.48, 0.42),
    (440.0, 0.42, 0.46), (440.9, 0.50, 0.44), (441.8, 0.46, 0.52), (442.7, 0.52, 0.44), (443.6, 0.48, 0.54),
    (444.5, 0.44, 0.50), (445.4, 0.50, 0.46), (446.3, 0.54, 0.48), (447.2, 0.48, 0.52), (448.1, 0.52, 0.46),
    (449.0, 0.46, 0.54), (449.9, 0.50, 0.48), (450.8, 0.55, 0.50), (451.7, 0.50, 0.56), (452.6, 0.54, 0.48),
    (453.5, 0.48, 0.52), (454.4, 0.52, 0.56), (455.3, 0.56, 0.50),
    (456.2, 0.62, 0.55), (457.1, 0.68, 0.58), (458.0, 0.72, 0.62), (458.9, 0.64, 0.70), (459.8, 0.70, 0.66),
    (460.7, 0.62, 0.68), (461.6, 0.66, 0.60), (462.5, 0.70, 0.64), (463.4, 0.62, 0.68), (464.3, 0.66, 0.60),
    (465.2, 0.60, 0.64), (466.1, 0.64, 0.58), (467.0, 0.58, 0.66), (467.9, 0.62, 0.56), (468.8, 0.56, 0.60),
    (469.7, 0.50, 0.58), (470.6, 0.56, 0.48), (471.5, 0.62, 0.54), (472.4, 0.66, 0.60), (473.3, 0.72, 0.64),
    (474.2, 0.68, 0.75), (475.1, 0.74, 0.66), (476.0, 0.70, 0.78), (476.9, 0.64, 0.72), (477.8, 0.76, 0.68),
    (478.7, 0.72, 0.80), (479.6, 0.68, 0.74), (480.5, 0.78, 0.70), (481.4, 0.74, 0.82), (482.3, 0.80, 0.72),
    (483.2, 0.76, 0.85), (484.1, 0.82, 0.74), (485.0, 0.88, 0.78), (485.9, 0.80, 0.86), (486.8, 0.90, 0.82),
    (487.7, 0.78, 0.88), (488.6, 0.72, 0.84), (489.5, 0.66, 0.78), (490.4, 0.58, 0.70), (491.3, 0.52, 0.62),
    (492.2, 0.48, 0.56),
    (499.8, 0.86, 0.78), (500.7, 0.80, 0.72), (501.6, 0.74, 0.82), (502.5, 0.68, 0.76), (503.4, 0.78, 0.64),
    (504.3, 0.72, 0.80), (505.2, 0.66, 0.74), (506.1, 0.76, 0.70), (507.0, 0.82, 0.72), (507.9, 0.86, 0.78),
    (508.8, 0.76, 0.70), (509.7, 0.68, 0.62), (510.6, 0.64, 0.72), (511.5, 0.70, 0.60), (512.4, 0.62, 0.56),
    (513.3, 0.58, 0.66), (514.2, 0.54, 0.62), (515.1, 0.60, 0.50), (516.0, 0.52, 0.58), (516.9, 0.48, 0.56),
    (517.8, 0.56, 0.52), (518.7, 0.50, 0.48), (519.6, 0.54, 0.46),
    (527.0, 0.66, 0.58), (527.9, 0.70, 0.62), (528.8, 0.60, 0.54), (529.7, 0.66, 0.50), (530.6, 0.56, 0.64),
    (531.5, 0.62, 0.52), (532.4, 0.58, 0.68), (533.3, 0.64, 0.55), (534.2, 0.52, 0.60), (535.1, 0.62, 0.46),
    (536.0, 0.56, 0.42),
    (545.0, 0.72, 0.58), (545.9, 0.80, 0.66), (546.8, 0.62, 0.74), (547.7, 0.85, 0.70), (548.6, 0.68, 0.60),
    (549.5, 0.58, 0.76), (550.4, 0.72, 0.52), (551.3, 0.64, 0.70), (552.2, 0.56, 0.66), (553.1, 0.70, 0.60),
    (554.0, 0.62, 0.48), (554.9, 0.68, 0.56), (555.8, 0.54, 0.64), (556.7, 0.70, 0.60), (557.6, 0.58, 0.66),
    (558.5, 0.64, 0.52), (559.4, 0.72, 0.58), (560.3, 0.60, 0.68), (561.2, 0.66, 0.54), (562.1, 0.76, 0.62),
    (563.0, 0.58, 0.70), (563.9, 0.50, 0.64), (564.8, 0.68, 0.56), (565.7, 0.62, 0.74), (566.6, 0.80, 0.66),
    (567.5, 0.56, 0.70), (568.4, 0.64, 0.50), (569.3, 0.72, 0.60), (570.2, 0.58, 0.66), (571.1, 0.54, 0.62),
    (572.0, 0.68, 0.56), (572.9, 0.62, 0.74), (573.8, 0.50, 0.60), (574.7, 0.66, 0.56), (575.6, 0.60, 0.70),
    (576.5, 0.54, 0.64), (577.4, 0.48, 0.58), (578.3, 0.62, 0.52), (579.2, 0.56, 0.66), (580.1, 0.64, 0.58),
    (590.4, 0.42, 0.75), (591.3, 0.65, 0.82), (592.2, 0.70, 0.60), (593.1, 0.62, 0.72), (594.0, 0.58, 0.66),
    (594.9, 0.68, 0.54), (595.8, 0.50, 0.62), (596.7, 0.60, 0.56), (597.6, 0.66, 0.52), (598.5, 0.54, 0.62),
    (599.4, 0.48, 0.58), (600.3, 0.60, 0.50), (601.2, 0.56, 0.46), (602.1, 0.50, 0.58), (603.0, 0.44, 0.54),
    (603.9, 0.52, 0.46), (604.8, 0.40, 0.50), (605.7, 0.46, 0.38), (606.6, 0.36, 0.44), (607.5, 0.42, 0.32),
    (616.8, 1.11, 1.05), (617.6, 1.08, 0.98), (618.4, 0.95, 1.02), (619.2, 0.88, 0.92), (620.0, 0.84, 0.80),
    (620.8, 0.78, 0.74),
    (627.6, 0.95, 0.86), (628.4, 0.76, 0.70), (629.2, 0.68, 0.74), (630.0, 0.72, 0.64), (630.8, 0.66, 0.70),
    (631.6, 0.74, 0.62), (632.4, 0.68, 0.72), (633.2, 0.64, 0.70), (634.0, 0.70, 0.66), (634.8, 0.62, 0.68),
    (635.6, 0.72, 0.64), (636.4, 0.66, 0.60), (637.2, 0.70, 0.62), (638.0, 0.64, 0.68), (638.8, 0.60, 0.66),
    (639.6, 0.66, 0.58), (640.4, 0.62, 0.64), (641.2, 0.58, 0.66), (642.0, 0.64, 0.60), (642.8, 0.60, 0.56),
    (643.6, 0.66, 0.62), (644.4, 0.58, 0.64), (645.2, 0.62, 0.56), (646.0, 0.56, 0.60), (646.8, 0.66, 0.58),
    (647.6, 0.62, 0.68), (648.4, 0.58, 0.64), (649.2, 0.68, 0.62),
]

# target band in the lower panel (minutes, value limits)
band_start, band_end = 156.7, 677.4
band_lo, band_hi = 0.5, 1.0

y_ticks_bottom = [0, 0.5, 1.0, 1.5]
y_ticktext_bottom = ["0", "0.5", "1.0", "1.5"]


def to_time(minutes):
    return [DAY + pd.Timedelta(minutes=float(m)) for m in minutes]


def unpack(rows):
    # two readings share one timestamp
    xs, ys = [], []
    for t, a, b in rows:
        xs += [t, t]
        ys += [a, b]
    return to_time(xs), ys


FONT = "DejaVu Sans"
GRID_MAJOR = "#8c8c8c"
GRID_MINOR = "#e6e6e6"
THIN_LINE = dict(color="#bdbdbd", width=0.8)
GC1_COL = "rgba(222,160,58,0.72)"
GC2_COL = "rgba(38,128,128,0.62)"

fig = go.Figure()

# ---- top panel: DIQ
x, y = unpack(gc1)
fig.add_trace(go.Scatter(x=x, y=y, mode="markers", name="gc1", legend="legend", legendgroup="a",
                         marker=dict(symbol="x-thin", size=10, color=GC1_COL,
                                     line=dict(width=1.8, color=GC1_COL))))
x, y = unpack(gc2)
fig.add_trace(go.Scatter(x=x, y=y, mode="markers", name="gc2", legend="legend2", legendgroup="d",
                         marker=dict(symbol="cross-thin", size=10, color=GC2_COL,
                                     line=dict(width=1.8, color=GC2_COL))))
x, y = unpack(wfs1)
fig.add_trace(go.Scatter(x=x, y=y, mode="lines+markers", name="wfs1", legend="legend", legendgroup="b",
                         line=THIN_LINE,
                         marker=dict(symbol="diamond", size=9, color="#ffb800",
                                     line=dict(width=1, color="#ff2a00"))))
fig.add_trace(go.Scatter(x=[None], y=[None], mode="lines+markers", name="wfs2", legend="legend2",
                         legendgroup="e", line=THIN_LINE,
                         marker=dict(symbol="triangle-down", size=9, color="#4d4d60",
                                     line=dict(width=1, color="#9a9aa8"))))
fig.add_trace(go.Scatter(x=to_time([d[0] for d in dimm]), y=[d[1] for d in dimm],
                         mode="lines+markers", name="dimm", legend="legend", legendgroup="c",
                         line=dict(color="#1212e8", width=2),
                         marker=dict(symbol="circle", size=7, color="#f0f04a",
                                     line=dict(width=1.8, color="#1212c8"))))

# ---- middle panel: Guider - WFS
x, y = unpack(gw_purple)
fig.add_trace(go.Scatter(x=x, y=y, mode="lines+markers", xaxis="x2", yaxis="y2", showlegend=False,
                         line=THIN_LINE,
                         marker=dict(symbol="circle", size=10, color="#7a1283",
                                     line=dict(width=1, color="#d9c2e0"))))
x, y = unpack(gw_red)
fig.add_trace(go.Scatter(x=x, y=y, mode="lines+markers", xaxis="x2", yaxis="y2", showlegend=False,
                         line=THIN_LINE,
                         marker=dict(symbol="x-thin", size=8, color="#ff0d0d",
                                     line=dict(width=2.4, color="#ff0d0d"))))

# ---- bottom panel: BLIQ+HO+LO - BLIQ+HO
x, y = unpack(bliq)
fig.add_trace(go.Scatter(x=x, y=y, mode="markers", xaxis="x3", yaxis="y3", showlegend=False,
                         marker=dict(symbol="circle", size=10, color="#0b0b70",
                                     line=dict(width=1, color="#c8c8dc"))))

bx0, bx1 = to_time([band_start, band_end])
fig.add_shape(type="rect", xref="x3", yref="y3", x0=bx0, x1=bx1, y0=band_lo, y1=band_hi,
              fillcolor="rgba(255,60,60,0.06)", line=dict(width=0), layer="below")
for lvl in (band_lo, band_hi):
    fig.add_shape(type="line", xref="x3", yref="y3", x0=bx0, x1=bx1, y0=lvl, y1=lvl,
                  line=dict(color="#b22a2a", width=1.2, dash="dash"))

# legend frame (two legends side by side make the two columns)
fig.add_shape(type="rect", xref="paper", yref="paper", x0=0.0158, x1=0.1328, y0=0.8468, y1=0.992,
              fillcolor="rgba(255,255,255,0.8)", line=dict(color="#333333", width=1.2), layer="above")

x_range = to_time([142.5, 692.2])
xaxis_common = dict(type="date", range=x_range, tick0=DAY + pd.Timedelta(hours=3), dtick=3600000,
                    tickformat="%H:%M", ticks="inside", ticklen=5, tickcolor="black",
                    showline=True, linecolor="black", linewidth=1.5, showgrid=False, zeroline=False,
                    tickfont=dict(size=14, color="#222"), automargin=False)
yaxis_common = dict(showline=True, linecolor="black", linewidth=1.5, ticks="", zeroline=False,
                    showgrid=True, gridcolor=GRID_MAJOR, gridwidth=1, automargin=False,
                    tickfont=dict(size=14, color="#222"))

fig.update_layout(
    width=1400, height=700,
    margin=dict(l=44, r=23, t=40, b=27),
    plot_bgcolor="white", paper_bgcolor="white",
    font=dict(family=FONT, color="#222"),
    xaxis=dict(xaxis_common, anchor="y", domain=[0, 1]),
    xaxis2=dict(xaxis_common, anchor="y2", domain=[0, 1], matches="x"),
    xaxis3=dict(xaxis_common, anchor="y3", domain=[0, 1], matches="x"),
    yaxis=dict(yaxis_common, domain=[0.529, 1], range=[0.29, 4.3], tick0=0, dtick=1,
               minor=dict(tick0=0, dtick=0.1, showgrid=True, gridcolor=GRID_MINOR, gridwidth=1)),
    yaxis2=dict(yaxis_common, domain=[0.2686, 0.4392], range=[-1.28, 2.5], tick0=0, dtick=1,
                minor=dict(tick0=0, dtick=0.1, showgrid=True, gridcolor=GRID_MINOR, gridwidth=1)),
    yaxis3=dict(yaxis_common, domain=[0, 0.1754], range=[-0.24, 1.95],
                tickmode="array", tickvals=y_ticks_bottom, ticktext=y_ticktext_bottom,
                minor=dict(tickmode="linear", tick0=0, dtick=0.05, showgrid=True,
                           gridcolor=GRID_MINOR, gridwidth=1)),
    legend=dict(x=0.013, y=0.985, xanchor="left", yanchor="top", bgcolor="rgba(0,0,0,0)",
                font=dict(size=13), tracegroupgap=5, itemwidth=30),
    legend2=dict(x=0.069, y=0.985, xanchor="left", yanchor="top", bgcolor="rgba(0,0,0,0)",
                 font=dict(size=13), tracegroupgap=5, itemwidth=30),
    annotations=[
        dict(text="DIQ - 2026-05-10", x=0.5, y=1.0237, xref="paper", yref="paper",
             xanchor="center", yanchor="middle", showarrow=False, font=dict(size=15)),
        dict(text="Guider — WFS", x=0.5, y=0.4613, xref="paper", yref="paper",
             xanchor="center", yanchor="middle", showarrow=False, font=dict(size=15)),
        dict(text="BLIQ+HO+LO — BLIQ+HO", x=0.5, y=0.199, xref="paper", yref="paper",
             xanchor="center", yanchor="middle", showarrow=False, font=dict(size=15)),
    ],
)

# the page body has a default 8px margin; drop it so the figure sits at the window origin
fig.write_html("out.html", config={"displayModeBar": False},
               post_script="document.body.style.margin='0';")
